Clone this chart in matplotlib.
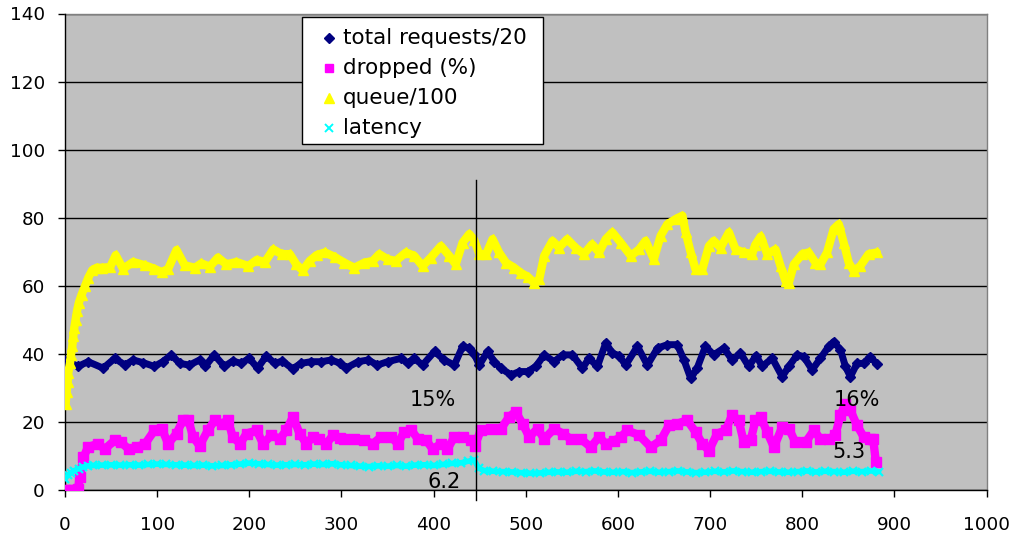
import matplotlib
matplotlib.use("Agg")
import matplotlib.pyplot as plt
from matplotlib.lines import Line2D
from matplotlib.patches import Rectangle

plt.rcParams['font.family'] = ['DejaVu Sans']

# ---- series: total requests / 20 ----
req_x = [0, 4, 14, 25, 41.5, 54, 65, 74, 85, 97, 106, 115.5, 124.5, 135, 146, 152, 162, 173,
         182, 191, 200, 209, 218.5, 227.5, 236, 247, 256, 267, 278, 289, 298, 305, 318, 329,
         339, 350, 365, 372, 379, 388, 401, 411.6, 422.5, 431.5, 438.7, 444, 449.6, 458.6,
         465.9, 473, 484, 493, 502, 511, 520, 530.8, 540, 550.7, 561.5, 568.7, 577.8, 586.8,
         594, 601, 608.5, 621.2, 632, 643, 653.7, 664.5, 671.7, 679, 686, 695, 704, 715, 724,
         733, 742, 750, 756.6, 767.5, 778.3, 785.5, 794.5, 801.7, 810.8, 819.8, 828.8, 834.2,
         841.5, 846.9, 852.3, 859.5, 866.7, 873.9, 881]
req_y = [37.9, 37.7, 36.3, 37.7, 35.8, 38.7, 36.7, 38.2, 37.4, 36.3, 37.7, 39.7, 37.2, 36.7,
         38.2, 36.3, 39.7, 36.3, 37.9, 37.2, 38.7, 35.8, 39.4, 37.2, 37.9, 35.6, 37.2, 37.7,
         37.7, 38.2, 37.3, 35.8, 37.7, 38.2, 36.7, 37.7, 38.7, 37.2, 38.7, 36.7, 40.7, 38.2,
         36.7, 42.2, 41.7, 40.0, 36.7, 40.7, 37.7, 35.8, 33.8, 34.8, 34.8, 36.3, 39.7, 37.7,
         39.7, 39.7, 35.8, 38.7, 36.3, 43.2, 40.2, 39.5, 36.7, 42.2, 36.7, 41.7, 42.7, 42.7,
         38.2, 32.8, 35.8, 42.2, 39.7, 41.7, 38.2, 40.2, 36.3, 39.5, 36.3, 38.7, 33.3, 36.3,
         39.7, 39.2, 35.3, 38.7, 42.2, 43.6, 41.2, 36.3, 33.3, 37.2, 37.2, 39.2, 37.0]

# ---- series: dropped (%) ----
drop_x = [0, 5, 10, 14, 16, 20, 25, 36, 43, 54, 61, 69, 78, 87, 97, 105, 112, 121, 128, 134,
          139, 146, 155, 162.5, 170, 177, 182, 190, 197, 208, 215, 224, 233, 240, 247.5, 254.5,
          262, 269, 276, 283.5, 291, 298, 303, 314, 325, 334, 343, 354, 361, 368, 376, 383,
          392, 399, 408, 415, 422.5, 431.5, 440.5, 445, 451, 462, 473, 482, 489, 496.5, 503.8,
          512.8, 520, 530.8, 540, 549, 559.7, 570.5, 579.6, 586.8, 596, 603, 610.3, 623, 635.6,
          646.4, 655.5, 664.5, 675.3, 684.3, 691.6, 698.8, 707.8, 716.8, 724, 731, 736.7, 744,
          749.3, 754.8, 762, 769.3, 778.3, 785.5, 792.7, 803.6, 812.6, 819.8, 828.8, 836,
          841.5, 846.9, 852.3, 859.5, 866.7, 873.9, 877, 880]
drop_y = [0, 0, 0, 0.3, 3.7, 9.6, 12.6, 13.6, 12.0, 14.6, 14.0, 12.0, 12.6, 13.6, 17.5, 18.0,
          13.6, 16.6, 20.5, 20.5, 15.6, 13.0, 17.5, 20.5, 19.5, 20.5, 15.6, 13.6, 16.6, 17.5,
          13.6, 16.1, 15.0, 17.5, 21.5, 16.6, 13.6, 15.6, 15.0, 13.6, 16.1, 15.3, 15.0, 15.0,
          14.6, 13.6, 15.6, 15.6, 13.6, 17.0, 17.5, 15.0, 14.6, 12.0, 13.6, 12.0, 15.6, 15.6,
          14.6, 13.0, 17.5, 18.0, 18.0, 21.5, 23.0, 19.5, 15.6, 18.0, 15.0, 18.0, 16.6, 15.0,
          15.0, 12.6, 15.6, 13.6, 14.5, 15.5, 17.5, 16.1, 12.6, 14.6, 19.0, 19.5, 20.5, 17.0,
          13.6, 11.6, 16.6, 17.5, 22.0, 20.5, 14.0, 14.6, 20.5, 21.5, 17.0, 12.6, 18.5, 18.0,
          14.0, 14.0, 17.5, 15.0, 15.0, 16.1, 22.0, 25.4, 23.4, 19.0, 15.6, 15.0, 15.0, 8.2]

# ---- series: queue / 100 ----
queue_x = [0.7, 1.8, 2.9, 3.6, 5.4, 6.5, 7.9, 9, 10, 11.5, 13, 15, 18, 21.7, 25.3, 29.6, 34.3,
           40, 49, 55, 63, 74, 87, 97, 105, 112, 121, 130, 141, 148, 157, 166, 175, 186, 199,
           208, 217, 226, 235, 244, 251, 258, 265.5, 273, 282, 292.5, 303, 314, 325, 334, 341,
           350, 359, 370, 379, 388, 397, 408, 417, 424, 431.5, 438.7, 444, 449.6, 457, 464,
           471, 478.5, 487.5, 494.7, 502, 509, 514.6, 520, 529, 536, 545, 554, 563, 572, 579.6,
           586.8, 594, 603, 614, 623, 630, 639, 646.4, 653.7, 662.7, 670, 673.5, 679, 684.3,
           691.6, 698.8, 704, 711.4, 720.5, 727.7, 736.7, 745.7, 749, 755, 762, 771, 776.5,
           781.9, 785.5, 791, 800, 807, 814.4, 819.8, 827, 834.2, 839.7, 845, 850.5, 856, 863,
           872, 881]
queue_y = [25.4, 28.9, 31.8, 34.5, 37.2, 39.7, 42.2, 45.1, 47.6, 50.0, 52.5, 55.0, 57.4, 59.9,
           62.4, 64.6, 65.3, 65.3, 65.5, 69.0, 65.0, 67.0, 66.0, 65.0, 64.0, 65.0, 70.5, 66.0,
           65.3, 66.6, 65.6, 68.3, 66.3, 67.0, 65.8, 67.6, 67.0, 70.7, 69.3, 69.3, 66.3, 64.5,
           67.3, 69.0, 69.8, 68.5, 66.8, 65.3, 66.8, 67.3, 69.3, 67.8, 67.3, 69.8, 68.8, 65.8,
           68.3, 71.7, 68.8, 66.3, 72.7, 75.2, 73.5, 69.3, 69.3, 73.7, 69.8, 66.8, 65.3, 63.8,
           62.7, 60.9, 61.9, 68.8, 73.2, 71.2, 73.7, 71.2, 69.3, 72.2, 69.8, 73.7, 75.7, 72.7,
           68.8, 70.7, 73.2, 67.8, 74.7, 78.1, 79.6, 80.6, 75.7, 69.8, 64.8, 64.8, 71.7, 73.2,
           71.2, 75.7, 70.7, 69.8, 69.3, 72.0, 74.5, 69.3, 70.7, 65.8, 61.4, 60.9, 66.3, 69.3,
           69.8, 66.8, 66.3, 69.8, 76.7, 78.1, 72.7, 66.8, 64.3, 65.8, 69.3, 69.8]

# ---- series: latency ----
lat_x = [0, 3, 6, 10, 15, 20, 25, 30, 40, 50, 60, 70, 80, 90, 100, 110, 120, 130, 140, 150,
         160, 170, 180, 190, 200, 210, 220, 230, 240, 250, 260, 270, 280, 290, 300, 310, 320,
         330, 340, 350, 360, 370, 380, 390, 400, 410, 420, 430, 437, 444, 449, 455, 465, 475,
         485, 495, 505, 515, 525, 535, 545, 555, 565, 575, 585, 595, 605, 615, 625, 635, 645,
         655, 665, 675, 685, 695, 705, 715, 725, 735, 745, 755, 765, 775, 785, 795, 805, 815,
         825, 835, 845, 855, 865, 875, 883]
lat_y = [3.3, 4.3, 5.0, 5.7, 6.3, 6.8, 7.1, 7.2, 7.3, 7.4, 7.3, 7.4, 7.3, 7.5, 7.6, 7.5, 7.4,
         7.3, 7.2, 7.3, 7.1, 7.2, 7.4, 7.6, 7.9, 7.7, 7.5, 7.3, 7.4, 7.5, 7.4, 7.6, 7.5, 7.7,
         7.4, 7.2, 7.0, 6.9, 7.1, 7.0, 7.2, 7.0, 7.3, 7.4, 7.2, 7.5, 7.8, 8.0, 8.4, 8.8, 6.4,
         5.7, 5.5, 5.4, 5.3, 5.1, 4.9, 5.0, 5.2, 5.3, 5.2, 5.5, 5.4, 5.6, 5.3, 5.2, 5.4, 5.1,
         5.3, 5.5, 5.2, 5.4, 5.6, 5.3, 5.1, 5.2, 5.5, 5.3, 5.6, 5.4, 5.2, 5.4, 5.5, 5.3, 5.2,
         5.4, 5.6, 5.3, 5.5, 5.4, 5.2, 5.5, 5.4, 5.6, 5.4]

series_labels = ["total requests/20", "dropped (%)", "queue/100", "latency"]

# phase boundary and the per-phase summary labels
split_x = 446
split_top = 91
notes = [("15%", 399, 26.4), ("6.2", 411.7, 2.3), ("16%", 858.8, 26.3), ("5.3", 850.5, 11.3)]

W, H = 1019, 539
fig = plt.figure(figsize=(W / 100, H / 100), dpi=100)
fig.patch.set_facecolor("white")
ax = fig.add_axes([65 / W, 49 / H, 921.5 / W, 476.5 / H])
ax.set_facecolor("#C0C0C0")

ax.set_xlim(0, 1000)
ax.set_ylim(0, 140)
ax.set_xticks(range(0, 1001, 100))
ax.set_yticks(range(0, 141, 20))
ax.yaxis.grid(True, color="black", lw=1.0)
ax.set_axisbelow(True)
for s in ("top", "right"):
    ax.spines[s].set_color("#808080")
    ax.spines[s].set_linewidth(1.0)
    ax.spines[s].set_zorder(2.6)
for s in ("left", "bottom"):
    ax.spines[s].set_color("black")
    ax.spines[s].set_linewidth(1.0)
    ax.spines[s].set_zorder(2.7)
ax.tick_params(axis="x", direction="out", length=5, width=1, pad=14, labelsize=13.2)
ax.tick_params(axis="y", direction="out", length=5, width=1, pad=9.5, labelsize=13.2)

styles = [
    dict(color="#000080", marker="D", ms=5.5, lw=5.0),
    dict(color="#FF00FF", marker="s", ms=6.5, lw=6.0),
    dict(color="#FFFF00", marker="^", ms=7, lw=6.0),
    dict(color="#00FFFF", marker="x", ms=6, lw=4.0),
]
data = [(req_x, req_y), (drop_x, drop_y), (queue_x, queue_y), (lat_x, lat_y)]
order = [2, 0, 1, 3]
for i in order:
    xs, ys = data[i]
    st = styles[i]
    ax.plot(xs, ys, color=st["color"], lw=st["lw"], solid_joinstyle="round",
            solid_capstyle="round", zorder=3 + i * 0.1)
    ax.plot(xs, ys, linestyle="none", marker=st["marker"], ms=st["ms"],
            color=st["color"], mec=st["color"], mew=1.6 if st["marker"] == "x" else 1,
            zorder=3.05 + i * 0.1)

ax.plot([split_x, split_x], [-3, split_top], color="black", lw=1, clip_on=False, zorder=5)

for txt, x, y in notes:
    ax.text(x, y, txt, ha="center", va="center", fontsize=15, color="black", zorder=6)

# legend box
def fx(px):
    return px / W

def fy(py):
    return 1 - py / H

fig.add_artist(Rectangle((fx(302), fy(144)), fx(543) - fx(302), fy(17) - fy(144),
                         transform=fig.transFigure, facecolor="white", edgecolor="black",
                         lw=1, zorder=10))
legend_ms = [5, 6, 7, 6]
for k, lab in enumerate(series_labels):
    py = 38 + 30 * k
    st = styles[k]
    fig.add_artist(Line2D([fx(329)], [fy(py)], transform=fig.transFigure, linestyle="none",
                          marker=st["marker"], ms=legend_ms[k], color=st["color"],
                          mec=st["color"], mew=1.4 if st["marker"] == "x" else 1, zorder=11))
    fig.text(fx(343), fy(py), lab, ha="left", va="center", fontsize=15.5, color="black",
             zorder=11)

fig.savefig("out.png", dpi=100)
